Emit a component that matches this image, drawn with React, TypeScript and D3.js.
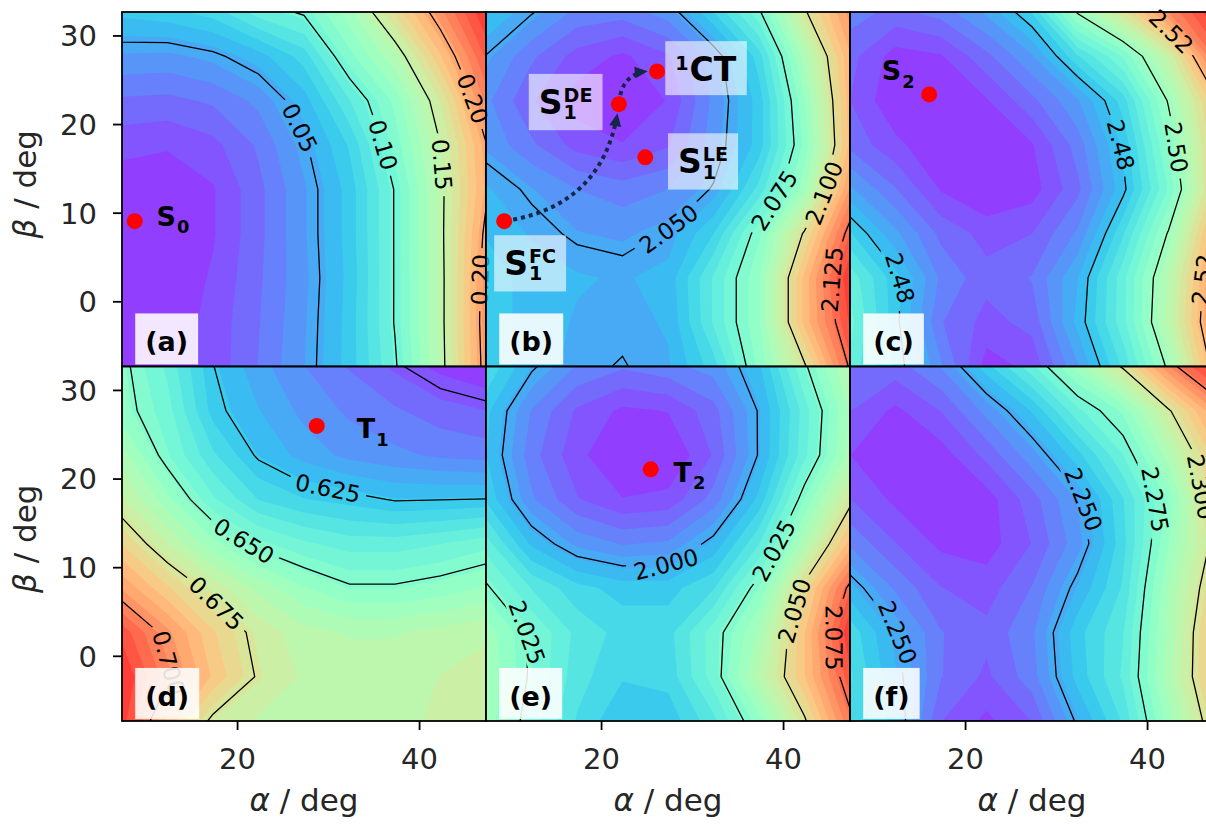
import { useEffect, useRef } from "react";
import * as d3 from "d3";

// scan grid: alpha (columns) and beta (rows, top row first)
const alphaSteps = [7.3, 12.3, 17.3, 22.3, 27.3, 32.3, 37.3, 42.3, 47.3];
const betaSteps = [32.7, 27.7, 22.7, 17.7, 12.7, 7.7, 2.7, -2.3, -7.3];

// (a) S0 energies
const gridS0 = [
	[0.065, 0.068, 0.075, 0.093, 0.102, 0.13, 0.17, 0.21, 0.248],
	[0.043, 0.042, 0.047, 0.058, 0.075, 0.112, 0.14, 0.185, 0.232],
	[0.025, 0.024, 0.028, 0.038, 0.058, 0.088, 0.118, 0.16, 0.215],
	[0.012, 0.01, 0.015, 0.028, 0.048, 0.072, 0.11, 0.15, 0.199],
	[0.003, 0.002, 0.008, 0.024, 0.043, 0.066, 0.101, 0.146, 0.197],
	[0.0, 0.001, 0.008, 0.024, 0.043, 0.066, 0.101, 0.146, 0.204],
	[0.0, 0.002, 0.01, 0.025, 0.042, 0.065, 0.101, 0.145, 0.208],
	[0.001, 0.003, 0.012, 0.026, 0.043, 0.066, 0.101, 0.145, 0.209],
	[0.002, 0.004, 0.012, 0.027, 0.044, 0.066, 0.098, 0.144, 0.207],
];
// (b) S1 energies
const gridS1 = [
	[2.056, 2.0505, 2.044, 2.043, 2.047, 2.06, 2.074, 2.099, 2.118],
	[2.0498, 2.042, 2.036, 2.033, 2.037, 2.047, 2.062, 2.088, 2.112],
	[2.046, 2.038, 2.032, 2.03, 2.034, 2.046, 2.058, 2.082, 2.111],
	[2.048, 2.042, 2.036, 2.034, 2.037, 2.047, 2.058, 2.08, 2.11],
	[2.053, 2.049, 2.045, 2.043, 2.045, 2.0505, 2.065, 2.085, 2.117],
	[2.056, 2.052, 2.049, 2.048, 2.0505, 2.06, 2.078, 2.101, 2.128],
	[2.058, 2.055, 2.053, 2.052, 2.054, 2.068, 2.082, 2.11, 2.135],
	[2.058, 2.055, 2.052, 2.051, 2.053, 2.068, 2.082, 2.11, 2.132],
	[2.058, 2.055, 2.051, 2.0497, 2.052, 2.062, 2.08, 2.099, 2.126],
];
// (c) S2 energies
const gridS2 = [
	[2.47, 2.468, 2.47, 2.475, 2.483, 2.5005, 2.512, 2.527, 2.538],
	[2.467, 2.462, 2.463, 2.468, 2.474, 2.485, 2.494, 2.508, 2.53],
	[2.466, 2.461, 2.461, 2.463, 2.468, 2.474, 2.484, 2.5005, 2.518],
	[2.468, 2.464, 2.461, 2.4605, 2.463, 2.47, 2.4805, 2.497, 2.515],
	[2.475, 2.469, 2.463, 2.4605, 2.462, 2.468, 2.479, 2.494, 2.515],
	[2.483, 2.475, 2.468, 2.465, 2.466, 2.472, 2.485, 2.5005, 2.521],
	[2.49, 2.481, 2.471, 2.467, 2.469, 2.477, 2.49, 2.505, 2.525],
	[2.492, 2.481, 2.469, 2.465, 2.467, 2.478, 2.49, 2.506, 2.526],
	[2.49, 2.482, 2.472, 2.462, 2.464, 2.474, 2.486, 2.501, 2.522],
];
// (d) T1 energies
const gridT1 = [
	[0.652, 0.641, 0.6252, 0.617, 0.611, 0.606, 0.601, 0.596, 0.593],
	[0.653, 0.644, 0.627, 0.62, 0.614, 0.61, 0.607, 0.604, 0.602],
	[0.662, 0.647, 0.634, 0.624, 0.618, 0.614, 0.612, 0.61, 0.609],
	[0.67, 0.657, 0.643, 0.633, 0.629, 0.627, 0.6245, 0.6248, 0.6252],
	[0.682, 0.669, 0.657, 0.648, 0.643, 0.64, 0.64, 0.642, 0.645],
	[0.695, 0.683, 0.672, 0.663, 0.656, 0.651, 0.651, 0.653, 0.656],
	[0.712, 0.697, 0.683, 0.672, 0.666, 0.664, 0.664, 0.666, 0.668],
	[0.718, 0.702, 0.686, 0.674, 0.668, 0.667, 0.667, 0.669, 0.671],
	[0.716, 0.69, 0.673, 0.668, 0.666, 0.666, 0.667, 0.67, 0.672],
];
// (e) T2 energies
const gridT2 = [
	[2.012, 2.001, 1.993, 1.99, 1.992, 1.995, 2.004, 2.024, 2.04],
	[2.006, 1.993, 1.985, 1.981, 1.982, 1.988, 2.0005, 2.018, 2.036],
	[2.005, 1.991, 1.983, 1.978, 1.978, 1.986, 2.0005, 2.019, 2.037],
	[2.008, 1.994, 1.986, 1.982, 1.983, 1.991, 2.006, 2.028, 2.048],
	[2.018, 2.004, 1.996, 1.993, 1.994, 2.002, 2.016, 2.038, 2.06],
	[2.026, 2.016, 2.01, 2.007, 2.007, 2.012, 2.028, 2.052, 2.077],
	[2.034, 2.024, 2.015, 2.011, 2.011, 2.022, 2.036, 2.058, 2.085],
	[2.035, 2.024, 2.014, 2.009, 2.01, 2.022, 2.04, 2.058, 2.08],
	[2.034, 2.022, 2.012, 2.005, 2.006, 2.015, 2.03, 2.049, 2.073],
];
// (f) T3 energies
const gridT3 = [
	[2.24, 2.238, 2.244, 2.258, 2.27, 2.285, 2.301, 2.322, 2.338],
	[2.236, 2.231, 2.236, 2.245, 2.256, 2.27, 2.28, 2.299, 2.318],
	[2.232, 2.228, 2.23, 2.237, 2.246, 2.258, 2.271, 2.289, 2.308],
	[2.236, 2.231, 2.228, 2.23, 2.238, 2.248, 2.263, 2.28, 2.306],
	[2.243, 2.236, 2.231, 2.23, 2.236, 2.246, 2.262, 2.283, 2.302],
	[2.253, 2.243, 2.236, 2.234, 2.24, 2.252, 2.264, 2.287, 2.306],
	[2.262, 2.2505, 2.24, 2.237, 2.243, 2.258, 2.267, 2.288, 2.31],
	[2.264, 2.252, 2.24, 2.235, 2.242, 2.257, 2.268, 2.289, 2.31],
	[2.262, 2.254, 2.236, 2.231, 2.236, 2.251, 2.264, 2.285, 2.305],
];

// contour line levels
const levelsS0 = [0.05, 0.1, 0.15, 0.2];
const levelsS1 = [2.05, 2.075, 2.1, 2.125];
const levelsS2 = [2.48, 2.5, 2.52];
const levelsT1 = [0.6, 0.625, 0.65, 0.675, 0.7];
const levelsT2 = [2.0, 2.025, 2.05, 2.075];
const levelsT3 = [2.25, 2.275, 2.3, 2.325];

// inline label spots (level, approx alpha, beta)
const labelsS0 = [
	{ level: 0.05, alpha: 27.3, beta: 19.9 },
	{ level: 0.1, alpha: 36.3, beta: 17.8 },
	{ level: 0.15, alpha: 42.8, beta: 15.5 },
	{ level: 0.2, alpha: 45.8, beta: 22.9 },
	{ level: 0.2, alpha: 46.6, beta: 2.5 },
];
const labelsS1 = [
	{ level: 2.05, alpha: 27.5, beta: 8.1 },
	{ level: 2.075, alpha: 38.9, beta: 11.5 },
	{ level: 2.1, alpha: 44.4, beta: 12.3 },
	{ level: 2.125, alpha: 45.3, beta: 2.5 },
];
const labelsS2 = [
	{ level: 2.52, alpha: 42.5, beta: 30.4 },
	{ level: 2.48, alpha: 38.1, beta: 18.0 },
	{ level: 2.5, alpha: 44.4, beta: 17.6 },
	{ level: 2.48, alpha: 13.2, beta: 2.9 },
	{ level: 2.52, alpha: 46.2, beta: 2.5 },
];
const labelsT1 = [
	{ level: 0.625, alpha: 29.7, beta: 17.8 },
	{ level: 0.65, alpha: 20.5, beta: 12.7 },
	{ level: 0.675, alpha: 17.6, beta: 5.9 },
	{ level: 0.7, alpha: 10.8, beta: -1.3 },
];
const labelsT2 = [
	{ level: 2.0, alpha: 27.1, beta: 9.7 },
	{ level: 2.025, alpha: 40.2, beta: 11.2 },
	{ level: 2.05, alpha: 42.0, beta: 4.9 },
	{ level: 2.075, alpha: 45.6, beta: 2.1 },
	{ level: 2.025, alpha: 13.5, beta: 2.9 },
];
const labelsT3 = [
	{ level: 2.25, alpha: 33.7, beta: 17.8 },
	{ level: 2.275, alpha: 41.4, beta: 17.8 },
	{ level: 2.3, alpha: 45.8, beta: 19.1 },
	{ level: 2.25, alpha: 12.8, beta: 2.9 },
];

// optimized structures (red dots)
const states = [
	{ panel: "a", name: "S0", alpha: 8.7, beta: 9.1 },
	{ panel: "b", name: "S1FC", alpha: 9.3, beta: 9.1 },
	{ panel: "b", name: "S1DE", alpha: 21.9, beta: 22.3 },
	{ panel: "b", name: "1CT", alpha: 26.1, beta: 26.0 },
	{ panel: "b", name: "S1LE", alpha: 24.8, beta: 16.3 },
	{ panel: "c", name: "S2", alpha: 16.0, beta: 23.4 },
	{ panel: "d", name: "T1", alpha: 28.7, beta: 26.0 },
	{ panel: "e", name: "T2", alpha: 25.4, beta: 21.1 },
];

const stateTexts = [
	{ panel: "a", main: "S", sub: "0", alpha: 11.1, beta: 8.6, size: 27, box: false },
	{ panel: "b", main: "S", sub: "1", sup: "FC", alpha: 9.3, beta: 3.0, size: 33, box: true },
	{ panel: "b", main: "S", sub: "1", sup: "DE", alpha: 13.1, beta: 21.2, size: 33, box: true },
	{ panel: "b", main: "S", sub: "1", sup: "LE", alpha: 28.4, beta: 14.5, size: 33, box: true },
	{ panel: "b", pre: "1", main: "CT", alpha: 28.1, beta: 24.9, size: 33, box: true },
	{ panel: "c", main: "S", sub: "2", alpha: 10.8, beta: 25.0, size: 27, box: false },
	{ panel: "d", main: "T", sub: "1", alpha: 33.1, beta: 24.6, size: 27, box: false },
	{ panel: "e", main: "T", sub: "2", alpha: 27.9, beta: 19.7, size: 27, box: false },
];

const pathways = [
	{ from: "S1FC", to: "S1DE", rad: 0.38 },
	{ from: "S1DE", to: "1CT", rad: -0.5 },
];

const panels = [
	{ key: "a", grid: gridS0, levels: levelsS0, labels: labelsS0, digits: 2, col: 0, row: 0 },
	{ key: "b", grid: gridS1, levels: levelsS1, labels: labelsS1, digits: 3, col: 1, row: 0 },
	{ key: "c", grid: gridS2, levels: levelsS2, labels: labelsS2, digits: 2, col: 2, row: 0 },
	{ key: "d", grid: gridT1, levels: levelsT1, labels: labelsT1, digits: 3, col: 0, row: 1 },
	{ key: "e", grid: gridT2, levels: levelsT2, labels: labelsT2, digits: 3, col: 1, row: 1 },
	{ key: "f", grid: gridT3, levels: levelsT3, labels: labelsT3, digits: 3, col: 2, row: 1 },
];

const yTicks = [0, 10, 20, 30];
const xTicks = [20, 40];

const FONT = "DejaVu Sans";
const W = 1206;
const H = 824;
const colX = [122, 486, 850];
const rowY = [12, 366.5];
const panelW = 364;
const panelH = 354.5;
const nBands = 28;

const x = d3.scaleLinear().domain([alphaSteps[0], alphaSteps[alphaSteps.length - 1]]).range([0, panelW]);
const y = d3.scaleLinear().domain([betaSteps[betaSteps.length - 1], betaSteps[0]]).range([panelH, 0]);

// matplotlib "rainbow"
function rainbow(t: number) {
	const r = Math.min(1, Math.abs(2 * t - 0.5));
	const g = Math.sin(Math.PI * t);
	const b = Math.cos((Math.PI * t) / 2);
	return d3.rgb(r * 255, g * 255, b * 255).formatHex();
}

function placeOnLine(rings: number[][][], ax: number, ay: number, half: number) {
	const inside = (px: number, py: number) => px >= 0 && px <= panelW && py >= 0 && py <= panelH;
	let best = { d: Infinity, ri: -1, si: 0, t: 0 };
	rings.forEach((ring, ri) => {
		for (let i = 0; i < ring.length - 1; i++) {
			const [x1, y1] = ring[i];
			const [x2, y2] = ring[i + 1];
			if (!inside(x1, y1) || !inside(x2, y2)) continue;
			const dx = x2 - x1;
			const dy = y2 - y1;
			const L2 = dx * dx + dy * dy;
			let t = L2 > 0 ? ((ax - x1) * dx + (ay - y1) * dy) / L2 : 0;
			t = Math.max(0, Math.min(1, t));
			const d = Math.hypot(x1 + t * dx - ax, y1 + t * dy - ay);
			if (d < best.d) best = { d, ri, si: i, t };
		}
	});
	if (best.ri < 0) return null;
	const ring = rings[best.ri];
	const cum = [0];
	for (let i = 1; i < ring.length; i++) {
		cum.push(cum[i - 1] + Math.hypot(ring[i][0] - ring[i - 1][0], ring[i][1] - ring[i - 1][1]));
	}
	const total = cum[cum.length - 1];
	const at = (s: number) => {
		s = Math.max(0, Math.min(total, s));
		let i = 0;
		while (i < cum.length - 2 && cum[i + 1] < s) i++;
		const seg = cum[i + 1] - cum[i];
		const f = seg > 0 ? (s - cum[i]) / seg : 0;
		return [ring[i][0] + f * (ring[i + 1][0] - ring[i][0]), ring[i][1] + f * (ring[i + 1][1] - ring[i][1])];
	};
	const s0 = cum[best.si] + best.t * (cum[best.si + 1] - cum[best.si]);
	const c = at(s0);
	const a = at(s0 - half);
	const b = at(s0 + half);
	let angle = (Math.atan2(b[1] - a[1], b[0] - a[0]) * 180) / Math.PI;
	if (angle > 90) angle -= 180;
	if (angle < -90) angle += 180;
	return { x: c[0], y: c[1], angle };
}

function drawStateText(g: any, spec: any) {
	const x0 = x(spec.alpha);
	const y0 = y(spec.beta);
	const grp = g.append("g").attr("font-family", FONT).attr("font-weight", "bold").attr("fill", "#000");
	const small = spec.size * (spec.sup || spec.pre ? 0.58 : 0.66);
	let cx = x0;
	if (spec.pre) {
		const t = grp.append("text").attr("x", cx).attr("y", y0 - spec.size * 0.34).attr("font-size", small).text(spec.pre);
		cx += t.node().getComputedTextLength() + 1;
	}
	const m = grp.append("text").attr("x", cx).attr("y", y0).attr("font-size", spec.size).text(spec.main);
	cx += m.node().getComputedTextLength() + 1;
	if (spec.sup) {
		grp.append("text").attr("x", cx).attr("y", y0 - spec.size * 0.36).attr("font-size", small).text(spec.sup);
	}
	if (spec.sub) {
		grp.append("text")
			.attr("x", cx)
			.attr("y", y0 + spec.size * (spec.sup ? 0.16 : 0.27))
			.attr("font-size", small)
			.text(spec.sub);
	}
	if (spec.box) {
		const bb = grp.node().getBBox();
		grp.insert("rect", ":first-child")
			.attr("x", bb.x - 10)
			.attr("y", bb.y - 9)
			.attr("width", bb.width + 20)
			.attr("height", bb.height + 15)
			.attr("fill", "#ffffff")
			.attr("fill-opacity", 0.6);
	}
}

function App() {
	const ref = useRef<SVGSVGElement>(null);

	useEffect(() => {
		drawChart();
	}, []);

	function drawChart() {
		const svg = d3.select(ref.current);
		svg.selectAll("*").remove();
		const defs = svg.append("defs");

		svg.append("rect").attr("width", W).attr("height", H).attr("fill", "#ffffff");

		panels.forEach((p) => {
			const g = svg.append("g").attr("transform", `translate(${colX[p.col]},${rowY[p.row]})`);
			defs.append("clipPath").attr("id", `clip-${p.key}`).append("rect").attr("width", panelW).attr("height", panelH);
			const mask = defs
				.append("mask")
				.attr("id", `mask-${p.key}`)
				.attr("maskUnits", "userSpaceOnUse")
				.attr("x", -20)
				.attr("y", -20)
				.attr("width", panelW + 40)
				.attr("height", panelH + 40);
			mask.append("rect")
				.attr("x", -20)
				.attr("y", -20)
				.attr("width", panelW + 40)
				.attr("height", panelH + 40)
				.attr("fill", "white");

			const nx = alphaSteps.length;
			const ny = betaSteps.length;
			const flat = p.grid.flat();
			const [vmin, vmax] = d3.extent(flat) as [number, number];
			const gen = d3.contours().size([nx, ny]);
			const gx = d3.scaleLinear().domain([0.5, nx - 0.5]).range([x(alphaSteps[0]), x(alphaSteps[nx - 1])]);
			const gy = d3.scaleLinear().domain([0.5, ny - 0.5]).range([y(betaSteps[0]), y(betaSteps[ny - 1])]);
			const toRings = (geom: any) =>
				geom.coordinates.flatMap((poly: any) => poly.map((ring: any) => ring.map((pt: any) => [gx(pt[0]), gy(pt[1])])));
			const ringsPath = (rings: number[][][]) => rings.map((r) => "M" + r.map((pt) => pt.join(",")).join("L") + "Z").join("");

			// filled bands
			const thresholds = d3.range(nBands).map((k) => vmin + (k * (vmax - vmin)) / nBands);
			const fill = g.append("g").attr("clip-path", `url(#clip-${p.key})`).attr("opacity", 0.8);
			thresholds.forEach((t, k) => {
				fill.append("path")
					.attr("d", ringsPath(toRings(gen.contour(flat, t))))
					.attr("fill-rule", "evenodd")
					.attr("fill", rainbow((k + 0.5) / nBands));
			});

			// contour lines
			const lineRings = new Map<number, number[][][]>();
			p.levels.forEach((lv) => lineRings.set(lv, toRings(gen.contour(flat, lv))));
			const lines = g.append("g").attr("clip-path", `url(#clip-${p.key})`).append("g").attr("mask", `url(#mask-${p.key})`);
			p.levels.forEach((lv) => {
				lines.append("path")
					.attr("d", ringsPath(lineRings.get(lv)!))
					.attr("fill", "none")
					.attr("stroke", "#000")
					.attr("stroke-width", 1.3);
			});

			// inline labels
			const fmt = d3.format(`.${p.digits}f`);
			p.labels.forEach((lab) => {
				const spot = placeOnLine(lineRings.get(lab.level)!, x(lab.alpha), y(lab.beta), 16);
				if (!spot) return;
				const txt = g
					.append("text")
					.attr("transform", `translate(${spot.x},${spot.y}) rotate(${spot.angle})`)
					.attr("text-anchor", "middle")
					.attr("dy", "0.36em")
					.attr("font-family", FONT)
					.attr("font-size", 23)
					.attr("fill", "#000")
					.text(fmt(lab.level));
				const len = (txt.node() as SVGTextElement).getComputedTextLength();
				mask.append("rect")
					.attr("x", -len / 2 - 6)
					.attr("y", -11)
					.attr("width", len + 12)
					.attr("height", 22)
					.attr("transform", `translate(${spot.x},${spot.y}) rotate(${spot.angle})`)
					.attr("fill", "black");
			});

			// pathways
			pathways
				.filter((pw) => states.find((s) => s.name === pw.from)!.panel === p.key)
				.forEach((pw) => {
					const a = states.find((s) => s.name === pw.from)!;
					const b = states.find((s) => s.name === pw.to)!;
					const p0 = [x(a.alpha), y(a.beta)];
					const p2 = [x(b.alpha), y(b.beta)];
					const dx = p2[0] - p0[0];
					const dy = p2[1] - p0[1];
					const c = [(p0[0] + p2[0]) / 2 - pw.rad * dy, (p0[1] + p2[1]) / 2 + pw.rad * dx];
					const pts = d3
						.range(0, 1.0001, 0.005)
						.map((t) => [
							(1 - t) * (1 - t) * p0[0] + 2 * (1 - t) * t * c[0] + t * t * p2[0],
							(1 - t) * (1 - t) * p0[1] + 2 * (1 - t) * t * c[1] + t * t * p2[1],
						])
						.filter((q) => Math.hypot(q[0] - p0[0], q[1] - p0[1]) > 9 && Math.hypot(q[0] - p2[0], q[1] - p2[1]) > 9);
					const tip = pts[pts.length - 1];
					const back = pts[Math.max(0, pts.length - 4)];
					const ang = Math.atan2(tip[1] - back[1], tip[0] - back[0]);
					const headLen = 13;
					const body = pts.filter((q) => Math.hypot(q[0] - tip[0], q[1] - tip[1]) > headLen - 2);
					g.append("path")
						.attr("d", d3.line()(body as [number, number][]))
						.attr("fill", "none")
						.attr("stroke", "#16264a")
						.attr("stroke-width", 4)
						.attr("stroke-dasharray", "4 4");
					const ux = Math.cos(ang);
					const uy = Math.sin(ang);
					const base = [tip[0] - headLen * ux, tip[1] - headLen * uy];
					g.append("path")
						.attr(
							"d",
							`M${tip[0]},${tip[1]}L${base[0] - 6 * uy},${base[1] + 6 * ux}L${base[0] + 6 * uy},${base[1] - 6 * ux}Z`
						)
						.attr("fill", "#16264a");
				});

			// state markers
			g.selectAll("circle.state")
				.data(states.filter((s) => s.panel === p.key))
				.join("circle")
				.attr("class", "state")
				.attr("cx", (d) => x(d.alpha))
				.attr("cy", (d) => y(d.beta))
				.attr("r", 8)
				.attr("fill", "#ff0000");

			stateTexts.filter((s) => s.panel === p.key).forEach((s) => drawStateText(g, s));

			// panel letter
			const lg = g.append("g");
			const lt = lg
				.append("text")
				.attr("x", x(9.85))
				.attr("y", y(-5.6))
				.attr("font-family", FONT)
				.attr("font-weight", "bold")
				.attr("font-size", 27)
				.text(`(${p.key})`);
			const bb = (lt.node() as SVGTextElement).getBBox();
			lg.insert("rect", ":first-child")
				.attr("x", bb.x - 10)
				.attr("y", bb.y - 13)
				.attr("width", bb.width + 20)
				.attr("height", bb.height + 20)
				.attr("fill", "#ffffff")
				.attr("fill-opacity", 0.88);

			// frame
			g.append("rect")
				.attr("width", panelW)
				.attr("height", panelH)
				.attr("fill", "none")
				.attr("stroke", "#000")
				.attr("stroke-width", 1.8);

			// axes
			if (p.col === 0) {
				yTicks.forEach((v) => {
					g.append("line").attr("x1", -9).attr("x2", 0).attr("y1", y(v)).attr("y2", y(v)).attr("stroke", "#000").attr("stroke-width", 1.8);
					g.append("text")
						.attr("x", -25)
						.attr("y", y(v))
						.attr("dy", "0.36em")
						.attr("text-anchor", "end")
						.attr("font-family", FONT)
						.attr("font-size", 29)
						.attr("fill", "#262626")
						.text(v);
				});
				const yl = g
					.append("text")
					.attr("transform", `translate(${36 - colX[0]},${panelH / 2 - 5}) rotate(-90)`)
					.attr("text-anchor", "middle")
					.attr("font-family", FONT)
					.attr("font-size", 31)
					.attr("fill", "#262626");
				yl.append("tspan").attr("font-style", "italic").text("β");
				yl.append("tspan").text(" / deg");
			}
			if (p.row === 1) {
				xTicks.forEach((v) => {
					g.append("line").attr("x1", x(v)).attr("x2", x(v)).attr("y1", panelH).attr("y2", panelH + 9).attr("stroke", "#000").attr("stroke-width", 1.8);
					g.append("text")
						.attr("x", x(v))
						.attr("y", panelH + 48)
						.attr("text-anchor", "middle")
						.attr("font-family", FONT)
						.attr("font-size", 29)
						.attr("fill", "#262626")
						.text(v);
				});
				const xl = g
					.append("text")
					.attr("x", panelW / 2)
					.attr("y", panelH + 90)
					.attr("text-anchor", "middle")
					.attr("font-family", FONT)
					.attr("font-size", 31)
					.attr("fill", "#262626");
				xl.append("tspan").attr("font-style", "italic").text("α");
				xl.append("tspan").text(" / deg");
			}
		});
	}

	return <svg ref={ref} width={W} height={H} style={{ position: "absolute", left: 0, top: 0, display: "block" }} />;
}

export default App;
